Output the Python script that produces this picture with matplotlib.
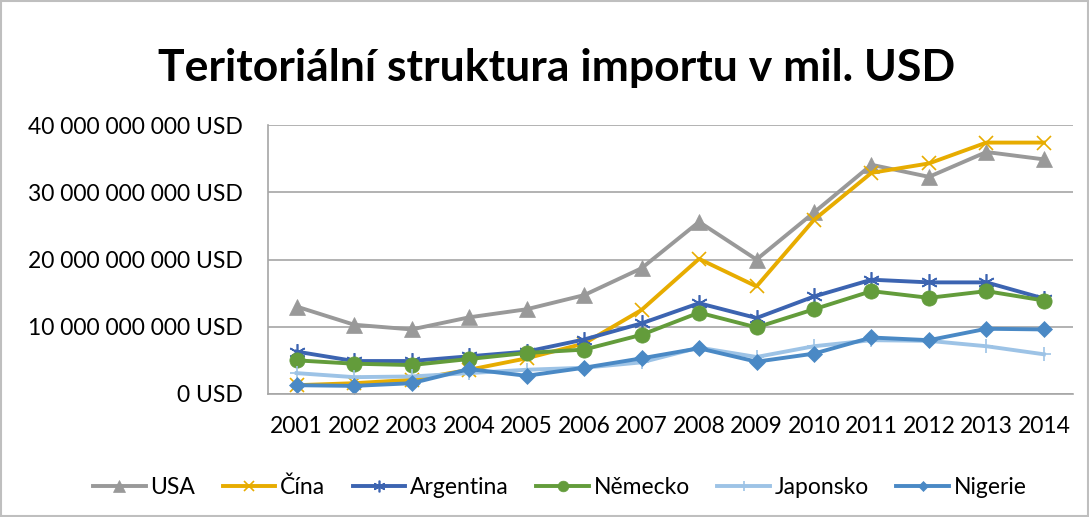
import matplotlib.pyplot as plt
from matplotlib.ticker import FuncFormatter
from matplotlib.patches import Rectangle

years = list(range(2001, 2015))

# hodnoty v mld. USD
usa = [13.0, 10.3, 9.6, 11.4, 12.6, 14.7, 18.7, 25.6, 20.0, 27.0, 34.1, 32.3, 36.0, 34.9]
cina = [1.3, 1.6, 2.1, 3.6, 5.3, 7.5, 12.5, 20.1, 16.0, 25.9, 32.9, 34.3, 37.4, 37.4]
argentina = [6.3, 4.9, 4.9, 5.6, 6.3, 8.1, 10.5, 13.5, 11.3, 14.5, 17.0, 16.6, 16.6, 14.2]
nemecko = [5.0, 4.5, 4.3, 5.2, 6.1, 6.6, 8.8, 12.1, 9.9, 12.6, 15.3, 14.3, 15.3, 13.9]
japonsko = [3.1, 2.5, 2.6, 3.1, 3.6, 3.9, 4.7, 6.9, 5.5, 7.1, 8.0, 7.9, 7.1, 5.9]
nigerie = [1.3, 1.2, 1.6, 3.7, 2.7, 3.9, 5.3, 6.8, 4.8, 6.0, 8.4, 8.0, 9.7, 9.6]

series = [
    ("USA", usa, "#999999", "^", 12),
    ("Čína", cina, "#E7AC00", "x", 10),
    ("Argentina", argentina, "#3C64B1", (6, 2, 0), 12),
    ("Německo", nemecko, "#639C3B", "o", 11),
    ("Japonsko", japonsko, "#9DC3E6", "+", 10),
    ("Nigerie", nigerie, "#4A89C5", "D", 8),
]

plt.rcParams['font.family'] = ['Lato', 'DejaVu Sans']

fig = plt.figure(figsize=(10.89, 5.17), dpi=100)
ax = fig.add_axes([0.246, 0.238, 0.739, 0.520])

for name, vals, col, mk, ms in series:
    ax.plot(years, [v * 1e9 for v in vals], color=col, linewidth=2.8, marker=mk,
            markersize=ms, markeredgewidth=1.2 if mk in ("x", "+") or isinstance(mk, tuple) else 0.5,
            markeredgecolor=col, label=name)

ax.set_xlim(2000.5, 2014.5)
ax.set_ylim(0, 40e9)
ax.set_yticks([0, 10e9, 20e9, 30e9, 40e9])
ax.yaxis.set_major_formatter(FuncFormatter(lambda v, p: "{:,.0f} USD".format(v).replace(",", " ")))
ax.set_xticks(years)
ax.grid(axis='y', color='#A6A6A6', linewidth=1.2)
ax.set_axisbelow(True)
for s in ['top', 'right']:
    ax.spines[s].set_visible(False)
for s in ['left', 'bottom']:
    ax.spines[s].set_color('#A6A6A6')
    ax.spines[s].set_linewidth(1.2)
ax.tick_params(length=0, labelsize=16.5, colors='black')
ax.tick_params(axis='x', pad=16)
ax.tick_params(axis='y', pad=18)

fig.text(0.511, 0.868, "Teritoriální struktura importu v mil. USD", ha='center', va='center',
         fontsize=32, fontweight='bold')

fig.legend(loc='center', bbox_to_anchor=(0.514, 0.058), ncol=6, frameon=False, fontsize=16.5,
           handlelength=2.3, columnspacing=1.2, handletextpad=0.2, markerscale=0.7)

fig.add_artist(Rectangle((0.001, 0.001), 0.998, 0.998, transform=fig.transFigure,
                         fill=False, edgecolor='#BFBFBF', linewidth=1.5))

fig.savefig('out.png', dpi=100)
